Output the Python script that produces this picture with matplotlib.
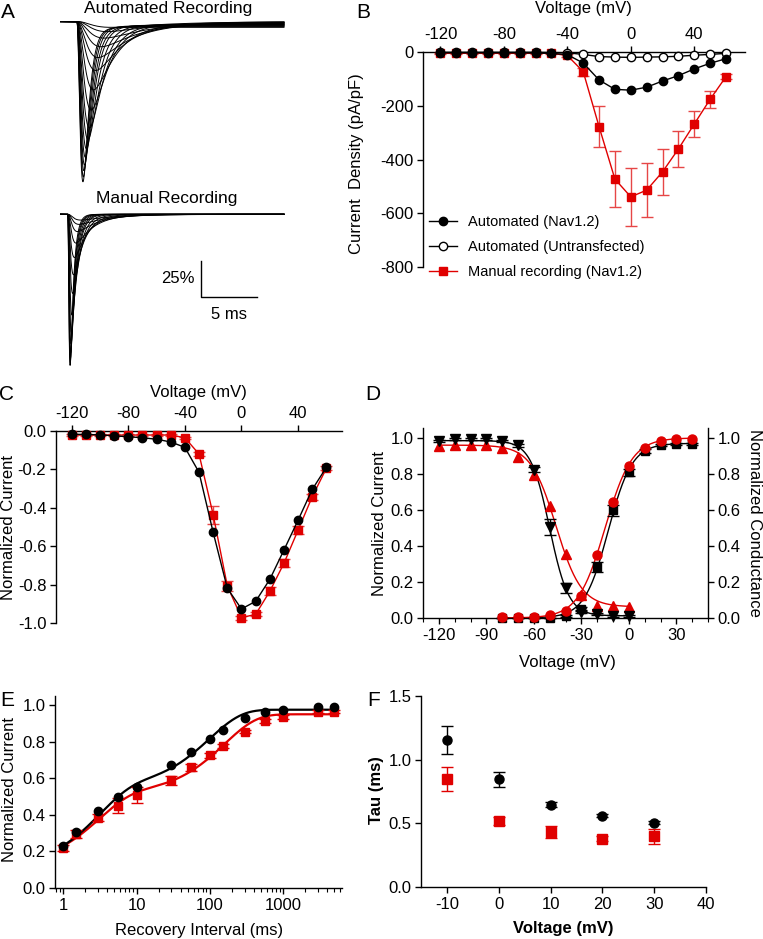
import numpy as np
import matplotlib
matplotlib.use("Agg")
import matplotlib.pyplot as plt
from matplotlib.lines import Line2D
from matplotlib.ticker import LogLocator, NullFormatter

plt.rcParams["font.family"] = ["Liberation Sans", "DejaVu Sans"]
plt.rcParams["font.size"] = 12
plt.rcParams["axes.unicode_minus"] = False
plt.rcParams["axes.linewidth"] = 1.0
plt.rcParams["xtick.major.width"] = 1.0
plt.rcParams["ytick.major.width"] = 1.0
plt.rcParams["xtick.minor.width"] = 0.8
plt.rcParams["xtick.major.size"] = 4
plt.rcParams["ytick.major.size"] = 4
plt.rcParams["xtick.major.pad"] = 3
plt.rcParams["ytick.major.pad"] = 3

RED = "#e00000"
ERR_RED = "#e64646"

# ---------------- data ----------------
# A: example traces (peak amplitude %, activation tau ms, inactivation tau ms, leak %)
auto_amp = [108, 105, 101, 97, 92, 86, 80, 72, 60, 46, 33, 24, 17, 11, 7, 4]
auto_tm = [0.34, 0.35, 0.36, 0.38, 0.4, 0.43, 0.5, 0.55, 0.6, 0.65, 0.7, 0.75, 0.85, 0.95, 1.05, 1.15]
auto_th = [0.45, 0.5, 0.57, 0.65, 0.75, 0.9, 1.05, 1.25, 1.5, 1.9, 2.4, 2.9, 3.4, 3.9, 4.4, 5.0]
auto_leak = [4, 3.5, 3, 3, 2.5, 2.5, 2, 2, 1.5, 1.5, 1, 1, 0.5, 0.5, 0, 0]
man_amp = [105, 103, 100, 96, 90, 82, 70, 55, 42, 30, 20, 12, 7, 4]
man_tm = [0.08, 0.085, 0.09, 0.1, 0.11, 0.12, 0.14, 0.16, 0.18, 0.2, 0.24, 0.28, 0.32, 0.36]
man_th = [0.3, 0.33, 0.36, 0.4, 0.45, 0.5, 0.6, 0.75, 0.95, 1.2, 1.6, 2.0, 2.5, 3.0]
auto_onset = 1.5
man_onset = 0.7

# B: current density
iv_volt = [-120, -110, -100, -90, -80, -70, -60, -50, -40, -30, -20, -10, 0, 10, 20, 30, 40, 50, 60]
dens_auto = [-3, -3, -3, -3, -3, -3, -4, -5, -10, -41, -104, -139, -142, -131, -108, -88, -63, -42, -25]
dens_untr = [-1, -1, -1, -1, -1, -1, -1, -2, -3, -9, -17, -19, -20, -19, -18, -16, -12, -9, -5]
dens_man = [-5, -5, -5, -5, -5, -5, -5, -5, -13, -73, -278, -473, -539, -514, -446, -361, -268, -176, -92]
dens_man_err = [2, 2, 2, 2, 2, 2, 2, 2, 4, 15, 76, 105, 108, 100, 85, 67, 48, 31, 10]

# C: normalized current
norm_auto = [-0.017, -0.018, -0.02, -0.025, -0.03, -0.035, -0.043, -0.057, -0.085, -0.215,
             -0.528, -0.819, -0.927, -0.887, -0.773, -0.620, -0.464, -0.304, -0.189]
norm_man = [-0.021, -0.021, -0.021, -0.021, -0.021, -0.021, -0.021, -0.021, -0.035, -0.12,
            -0.436, -0.807, -0.972, -0.955, -0.835, -0.689, -0.516, -0.342, -0.194]
norm_man_err = [0.003, 0.003, 0.003, 0.003, 0.003, 0.003, 0.003, 0.003, 0.005, 0.01,
                0.046, 0.025, 0.01, 0.01, 0.02, 0.02, 0.02, 0.015, 0.01]

# D: steady-state inactivation and activation
inact_volt = [-120, -110, -100, -90, -80, -70, -60, -50, -40, -30, -20, -10, 0]
inact_auto = [0.985, 0.994, 0.994, 0.994, 0.985, 0.959, 0.824, 0.506, 0.167, 0.035, 0.022, 0.012, 0.012]
inact_auto_err = [0.005, 0.005, 0.005, 0.005, 0.005, 0.008, 0.015, 0.045, 0.03, 0.01, 0.005, 0.005, 0.005]
inact_man = [0.954, 0.963, 0.963, 0.959, 0.943, 0.894, 0.796, 0.624, 0.356, 0.13, 0.068, 0.066, 0.063]
act_volt = [-80, -70, -60, -50, -40, -30, -20, -10, 0, 10, 20, 30, 40]
act_auto = [0.0, 0.0, 0.0, 0.0, 0.01, 0.05, 0.283, 0.598, 0.809, 0.926, 0.959, 0.968, 0.968]
act_auto_err = [0, 0, 0, 0, 0.005, 0.01, 0.03, 0.03, 0.02, 0.01, 0.005, 0.005, 0.005]
act_man = [0.003, 0.003, 0.008, 0.017, 0.04, 0.122, 0.35, 0.642, 0.842, 0.944, 0.985, 0.993, 0.996]
# Boltzmann fit parameters: top, bottom, V1/2, slope (negative slope = activation)
fit_inact_auto = (0.985, 0.012, -50, 6)
fit_inact_man = (0.96, 0.062, -46, 8)
fit_act_auto = (0.97, 0.0, -13, -7.5)
fit_act_man = (1.0, 0.0, -15, -8.5)

# E: recovery from inactivation
rec_ms = [1, 1.5, 3, 5.6, 10, 30, 56, 100, 150, 300, 560, 1000, 3000, 5000]
rec_auto = [0.23, 0.305, 0.42, 0.50, 0.555, 0.675, 0.745, 0.815, 0.865, 0.93, 0.965, 0.975, 0.99, 0.99]
rec_man = [0.22, 0.295, 0.385, 0.45, 0.51, 0.59, 0.66, 0.725, 0.775, 0.855, 0.915, 0.935, 0.965, 0.965]
rec_man_err = [0.015, 0.02, 0.02, 0.04, 0.045, 0.025, 0.02, 0.015, 0.01, 0.01, 0.01, 0.01, 0.01, 0.01]
# double exponential fit: plateau, A_fast, tau_fast, A_slow, tau_slow
fit_rec_auto = (0.975, 0.443, 3.0, 0.43, 100.0)
fit_rec_man = (0.95, 0.395, 3.0, 0.44, 160.0)

# F: inactivation tau
tau_volt = [-10, 0, 10, 20, 30]
tau_auto = [1.154, 0.846, 0.645, 0.561, 0.506]
tau_auto_err = [0.11, 0.06, 0.02, 0.01, 0.01]
tau_man = [0.849, 0.52, 0.431, 0.378, 0.397]
tau_man_err = [0.096, 0.03, 0.045, 0.02, 0.057]

# ---------------- figure ----------------
W, H = 763, 939
fig = plt.figure(figsize=(W / 100, H / 100), dpi=100)


def px_axes(x0, y0, x1, y1):
    return fig.add_axes([x0 / W, 1 - y1 / H, (x1 - x0) / W, (y1 - y0) / H])


def ftext(x, y, s, **kw):
    kw.setdefault("ha", "center")
    kw.setdefault("va", "center")
    fig.text(x / W, 1 - y / H, s, **kw)


def boltz(v, p):
    top, bottom, vh, k = p
    return bottom + (top - bottom) / (1 + np.exp((v - vh) / k))


def trace(t, t0, amp, tm, th, leak=0.0):
    s = np.clip(t - t0, 0, None)
    f = (1 - np.exp(-s / tm)) ** 3 * np.exp(-s / th)
    return -amp * f / f.max() - leak * (1 - np.exp(-s / 0.3))


# panel labels
for lab, x, y in [("A", 8, 12), ("B", 363, 12), ("C", 7, 394), ("D", 373, 394),
                  ("E", 7, 700), ("F", 374, 700)]:
    ftext(x, y, lab, fontsize=15)

# ---- A ----
axA = px_axes(60, 0, 285, 374)
t = np.linspace(0, 20, 4000)
for a, tm, th, lk in zip(auto_amp, auto_tm, auto_th, auto_leak):
    axA.plot(t, trace(t, auto_onset, a, tm, th, lk), color="k", lw=0.7)
for a, tm, th in zip(man_amp, man_tm, man_th):
    axA.plot(t, trace(t, man_onset, a, tm, th) - 134, color="k", lw=0.7)
axA.plot([12.6, 12.6, 17.6], [-166.25, -191.25, -191.25], color="k", lw=1.0)
axA.text(12.0, -178.7, "25%", ha="right", va="center", fontsize=12)
axA.text(15.1, -203.5, "5 ms", ha="center", va="center", fontsize=12)
axA.set_xlim(0, 20.09)
axA.set_ylim(-245, 15)
axA.axis("off")
ftext(168, 9, "Automated Recording", fontsize=12.5)
ftext(167, 199, "Manual Recording", fontsize=12.5)

# ---- B ----
axB = px_axes(423, 52, 745, 267)
axB.errorbar(iv_volt, dens_man, yerr=dens_man_err, fmt="-s", color=RED, ecolor=ERR_RED,
             ms=6, lw=1.0, elinewidth=1.0, capsize=4, clip_on=False, zorder=3)
axB.plot(iv_volt, dens_untr, "-o", color="k", mfc="white", ms=6, lw=1.0, clip_on=False, zorder=4)
axB.plot(iv_volt, dens_auto, "-o", color="k", ms=6, lw=1.0, clip_on=False, zorder=5)
axB.set_xlim(-131, 72)
axB.set_ylim(-800, 0)
axB.spines["right"].set_visible(False)
axB.spines["bottom"].set_visible(False)
axB.xaxis.tick_top()
axB.set_xticks([-120, -80, -40, 0, 40])
axB.set_yticks([0, -200, -400, -600, -800])
handles = [Line2D([], [], color="k", marker="o", ms=6, lw=1.0),
           Line2D([], [], color="k", marker="o", mfc="white", ms=6, lw=1.0),
           Line2D([], [], color=RED, marker="s", ms=6, lw=1.0)]
axB.legend(handles, ["Automated (Nav1.2)", "Automated (Untransfected)", "Manual recording (Nav1.2)"],
           loc="upper left", bbox_to_anchor=(429 / W, 1 - 215 / H), bbox_transform=fig.transFigure,
           frameon=False, fontsize=10.5, handlelength=1.9, handletextpad=0.8,
           labelspacing=0.75, borderpad=0, borderaxespad=0)
ftext(583, 9, "Voltage (mV)")
ftext(356, 164, "Current  Density (pA/pF)", rotation=90)

# ---- C ----
axC = px_axes(56, 431, 342, 623)
axC.errorbar(iv_volt, norm_man, yerr=norm_man_err, fmt="-s", color=RED, ecolor=ERR_RED,
             ms=6, lw=1.0, elinewidth=1.0, capsize=4, clip_on=False, zorder=3)
axC.plot(iv_volt, norm_auto, "-o", color="k", ms=6, lw=1.0, clip_on=False, zorder=4)
axC.set_xlim(-131, 71)
axC.set_ylim(-1.0, 0.0)
axC.spines["right"].set_visible(False)
axC.spines["bottom"].set_visible(False)
axC.xaxis.tick_top()
axC.set_xticks([-120, -80, -40, 0, 40])
axC.set_yticks([0.0, -0.2, -0.4, -0.6, -0.8, -1.0])
axC.set_yticklabels(["0.0", "-0.2", "-0.4", "-0.6", "-0.8", "-1.0"])
ftext(198, 392, "Voltage (mV)")
ftext(9, 527, "Normalized Current", rotation=90)

# ---- D ----
axD = px_axes(423, 428, 708, 618)
vfit_i = np.linspace(-120, 0, 300)
vfit_a = np.linspace(-80, 40, 300)
axD.plot(vfit_i, boltz(vfit_i, fit_inact_auto), color="k", lw=1.0)
axD.plot(vfit_i, boltz(vfit_i, fit_inact_man), color=RED, lw=1.0)
axD.plot(vfit_a, boltz(vfit_a, fit_act_auto), color="k", lw=1.0)
axD.plot(vfit_a, boltz(vfit_a, fit_act_man), color=RED, lw=1.0)
axD.errorbar(act_volt, act_auto, yerr=act_auto_err, fmt="s", color="k", ms=6, capsize=4,
             elinewidth=1.0, clip_on=False, zorder=3)
axD.plot(act_volt, act_man, "o", color=RED, ms=6.5, clip_on=False, zorder=4)
axD.plot(inact_volt, inact_man, "^", color=RED, ms=6.5, clip_on=False, zorder=4)
axD.errorbar(inact_volt, inact_auto, yerr=inact_auto_err, fmt="v", color="k", ms=6.5, capsize=4,
             elinewidth=1.0, clip_on=False, zorder=5)
axD.set_xlim(-130, 50)
axD.set_ylim(0, 1.055)
axD.spines["top"].set_visible(False)
axD.set_xticks([-120, -90, -60, -30, 0, 30])
axD.set_xticks(np.arange(-130, 51, 10), minor=True)
axD.tick_params(axis="x", which="minor", length=3)
axD.set_yticks([0.0, 0.2, 0.4, 0.6, 0.8, 1.0])
axD.set_yticklabels(["0.0", "0.2", "0.4", "0.6", "0.8", "1.0"])
axD.tick_params(axis="y", right=True, labelright=True)
ftext(567, 663, "Voltage (mV)")
ftext(379, 523, "Normalized Current", rotation=90)
ftext(755, 523, "Normalized Conductance", rotation=270)

# ---- E ----
axE = px_axes(55, 696, 342, 888)
tfit = np.logspace(0, np.log10(5000), 400)
for p, c in [(fit_rec_man, RED), (fit_rec_auto, "k")]:
    top, a1, t1, a2, t2 = p
    axE.plot(tfit, top - a1 * np.exp(-tfit / t1) - a2 * np.exp(-tfit / t2), color=c, lw=1.6)
axE.errorbar(rec_ms, rec_man, yerr=rec_man_err, fmt="s", color=RED, ecolor=RED, ms=6,
             capsize=4, elinewidth=1.0, clip_on=False, zorder=3)
axE.plot(rec_ms, rec_auto, "o", color="k", ms=6, clip_on=False, zorder=4)
axE.set_xscale("log")
axE.set_xlim(0.77, 6400)
axE.set_ylim(0, 1.05)
axE.spines["top"].set_visible(False)
axE.spines["right"].set_visible(False)
axE.set_xticks([1, 10, 100, 1000])
axE.set_xticklabels(["1", "10", "100", "1000"])
axE.xaxis.set_minor_locator(LogLocator(base=10, subs=np.arange(2, 10)))
axE.xaxis.set_minor_formatter(NullFormatter())
axE.tick_params(axis="x", which="minor", length=3)
axE.set_yticks([0.0, 0.2, 0.4, 0.6, 0.8, 1.0])
axE.set_yticklabels(["0.0", "0.2", "0.4", "0.6", "0.8", "1.0"])
ftext(199, 930, "Recovery Interval (ms)")
ftext(10, 790, "Normalized Current", rotation=90)

# ---- F ----
axF = px_axes(421, 696, 706, 887)
axF.errorbar(tau_volt, tau_man, yerr=tau_man_err, fmt="s", color=RED, ecolor=RED, ms=6.5,
             capsize=4, elinewidth=1.0, clip_on=False, zorder=3)
axF.errorbar(tau_volt, tau_auto, yerr=tau_auto_err, fmt="o", color="k", ms=6.5,
             capsize=4, elinewidth=1.0, clip_on=False, zorder=4)
axF.set_xlim(-15, 40)
axF.set_ylim(0, 1.5)
axF.spines["top"].set_visible(False)
axF.spines["right"].set_visible(False)
axF.set_xticks([-10, 0, 10, 20, 30, 40])
axF.set_yticks([0.0, 0.5, 1.0, 1.5])
axF.set_yticklabels(["0.0", "0.5", "1.0", "1.5"])
ftext(563, 928, "Voltage (mV)", fontweight="bold")
ftext(377, 790, "Tau (ms)", rotation=90, fontweight="bold")

fig.savefig("out.png", dpi=100)
